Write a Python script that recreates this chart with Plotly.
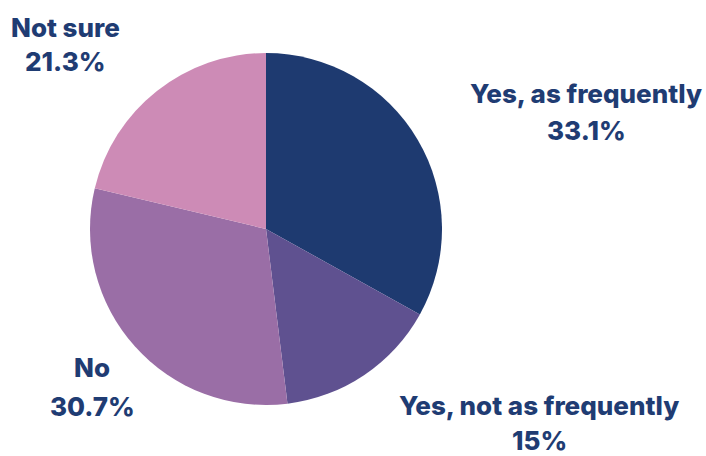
import plotly.graph_objects as go

labels = ["Yes, as frequently", "Yes, not as frequently", "No", "Not sure"]
values = [33.1, 15, 30.7, 21.3]
value_text = ["33.1%", "15%", "30.7%", "21.3%"]
colors = ["#1e3a70", "#5f5190", "#9a6ea6", "#cd8bb6"]

W, H = 706, 456
# label placement (px): center x, name line y, percent line y
label_pos = [(586, 93, 131), (539, 405, 440), (92, 367, 406), (65, 27, 62)]

fig = go.Figure(go.Pie(
    labels=labels, values=values, sort=False, direction="clockwise", rotation=0,
    marker=dict(colors=colors, line=dict(width=0)),
    textinfo="none", hoverinfo="label+percent", showlegend=False,
    domain=dict(x=[89 / W, 443 / W], y=[1 - 405 / H, 1 - 53 / H]),
))

font = dict(family="Inter", size=26, color="#1f3c73", weight=800)
for name, vt, (cx, y1, y2) in zip(labels, value_text, label_pos):
    fig.add_annotation(x=cx / W, y=1 - y1 / H, xref="paper", yref="paper", text=name,
                       showarrow=False, font=font, xanchor="center", yanchor="middle")
    fig.add_annotation(x=cx / W, y=1 - y2 / H, xref="paper", yref="paper", text=vt,
                       showarrow=False, font=font, xanchor="center", yanchor="middle")

fig.update_layout(width=W, height=H, margin=dict(l=0, r=0, t=0, b=0),
                  paper_bgcolor="white", plot_bgcolor="white")
fig.write_html("out.html")
